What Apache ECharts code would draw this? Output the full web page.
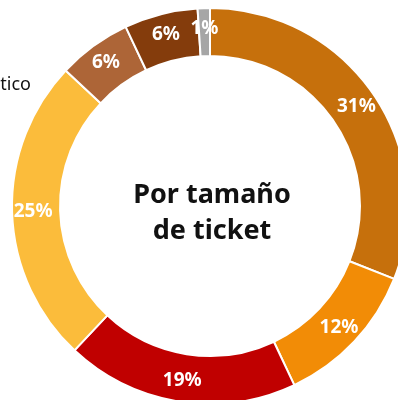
<!DOCTYPE html>
<html>
<head>
<meta charset="utf-8">
<script src="https://cdn.jsdelivr.net/npm/echarts@6/dist/echarts.min.js"></script>
<style>
  html, body { margin: 0; padding: 0; background: #fff; }
  #chart { width: 398px; height: 400px; }
</style>
</head>
<body>
<div id="chart"></div>
<script>
// Ticket-size split, clockwise from the top
const segments = ['Segmento 1', 'Segmento 2', 'Segmento 3', 'Segmento 4', 'Segmento 5', 'Segmento 6', 'Segmento 7'];
const shares = [31, 12, 19, 25, 6, 6, 1];
const colors = ['#c6700c', '#f28c06', '#c00000', '#fbbc3b', '#ad6537', '#843c0c', '#a6a6a6'];
const centerTitle = 'Por tamaño\nde ticket';
const sideLabel = 'Doméstico';

const chart = echarts.init(document.getElementById('chart'), null, { renderer: 'canvas' });

chart.setOption({
  animation: false,
  backgroundColor: '#ffffff',
  graphic: [
    {
      type: 'text',
      style: {
        text: centerTitle,
        x: 212,
        y: 213,
        textAlign: 'center',
        textVerticalAlign: 'middle',
        font: 'bold 27px "Noto Sans", sans-serif',
        lineHeight: 36,
        fill: '#111111'
      }
    },
    {
      type: 'text',
      style: {
        text: sideLabel,
        x: 31,
        y: 85,
        textAlign: 'right',
        textVerticalAlign: 'middle',
        font: '18px "Noto Sans", sans-serif',
        fill: '#111111'
      }
    }
  ],
  series: [{
    type: 'pie',
    center: [210, 206],
    radius: [150, 198],
    startAngle: 90,
    clockwise: true,
    avoidLabelOverlap: false,
    itemStyle: { borderColor: '#ffffff', borderWidth: 2 },
    label: {
      show: true,
      position: 'inside',
      formatter: p => p.value + '%',
      color: '#ffffff',
      fontFamily: '"Noto Sans", sans-serif',
      fontWeight: 'bold',
      fontSize: 19
    },
    labelLine: { show: false },
    emphasis: { disabled: true },
    data: segments.map((name, i) => ({
      name,
      value: shares[i],
      itemStyle: { color: colors[i] }
    }))
  }]
});
</script>
</body>
</html>
